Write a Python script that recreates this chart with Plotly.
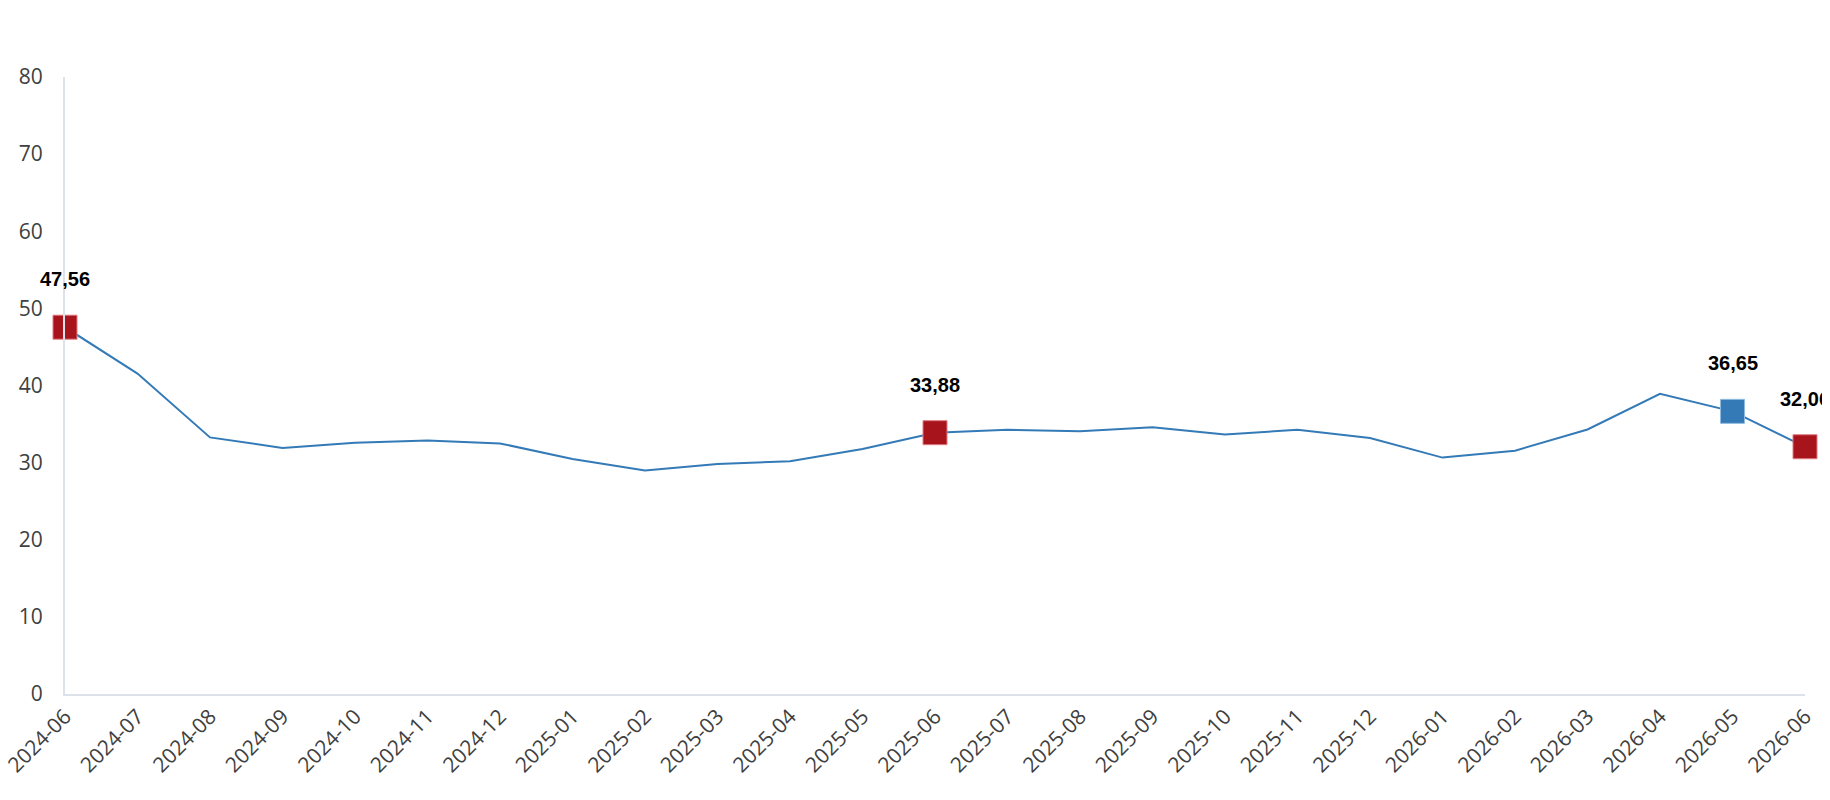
""" monthly series with highlighted points
"""
import plotly.graph_objects as go

months = ['2024-06', '2024-07', '2024-08', '2024-09', '2024-10', '2024-11',
          '2024-12', '2025-01', '2025-02', '2025-03', '2025-04', '2025-05',
          '2025-06', '2025-07', '2025-08', '2025-09', '2025-10', '2025-11',
          '2025-12', '2026-01', '2026-02', '2026-03', '2026-04', '2026-05',
          '2026-06']
values = [47.56, 41.54, 33.27, 31.90, 32.58, 32.88, 32.49, 30.48, 28.97,
          29.83, 30.18, 31.76, 33.88, 34.25, 34.08, 34.60, 33.65, 34.25,
          33.18, 30.65, 31.55, 34.30, 38.93, 36.65, 32.06]

# highlighted months and their marker colour
highlight_months = ['2024-06', '2025-06', '2026-05', '2026-06']
highlight_colours = ['#a8141c', '#a8141c', '#337ab7', '#a8141c']
highlight_borders = ['#e07a80', '#e07a80', '#8fbbe0', '#e07a80']

y_ticks = [0, 10, 20, 30, 40, 50, 60, 70, 80]

LINE_COLOUR = '#337ab7'
AXIS_COLOUR = '#dde1ea'
TICK_FONT = dict(family='Open Sans', size=21, color='#404040')


def main():
    """ main-function
    """
    highlight_values = [values[months.index(m)] for m in highlight_months]

    fig = go.Figure()

    # the main line
    fig.add_trace(go.Scatter(x=months, y=values, mode='lines',
                             line=dict(color=LINE_COLOUR, width=2),
                             cliponaxis=False, showlegend=False))

    # square markers on the highlighted months
    fig.add_trace(go.Scatter(x=highlight_months, y=highlight_values,
                             mode='markers',
                             marker=dict(symbol='square', size=24,
                                         color=highlight_colours,
                                         line=dict(color=highlight_borders,
                                                   width=1)),
                             cliponaxis=False, showlegend=False))

    # value labels above the markers
    for month, val in zip(highlight_months, highlight_values):
        fig.add_annotation(x=month, y=val, text=f'{val:.2f}'.replace('.', ','),
                           showarrow=False, yshift=48,
                           font=dict(family='Liberation Sans', size=20,
                                     color='#000000', weight='bold'))

    fig.update_layout(
        width=1830, height=800,
        margin=dict(l=57, r=33, t=69, b=114),
        paper_bgcolor='white', plot_bgcolor='white',
        xaxis=dict(type='category', range=[0, len(months) - 1],
                   showgrid=False, zeroline=False, automargin=False,
                   showline=True, linecolor=AXIS_COLOUR, linewidth=2,
                   tickangle=-45, tickfont=TICK_FONT, ticks=''),
        yaxis=dict(range=[0, 80], tickvals=y_ticks,
                   showgrid=False, zeroline=False, automargin=False,
                   showline=True, linecolor=AXIS_COLOUR, linewidth=2,
                   tickfont=TICK_FONT, ticks='', ticklabelstandoff=16),
    )

    fig.write_html('out.html')


if __name__ == '__main__':
    main()
